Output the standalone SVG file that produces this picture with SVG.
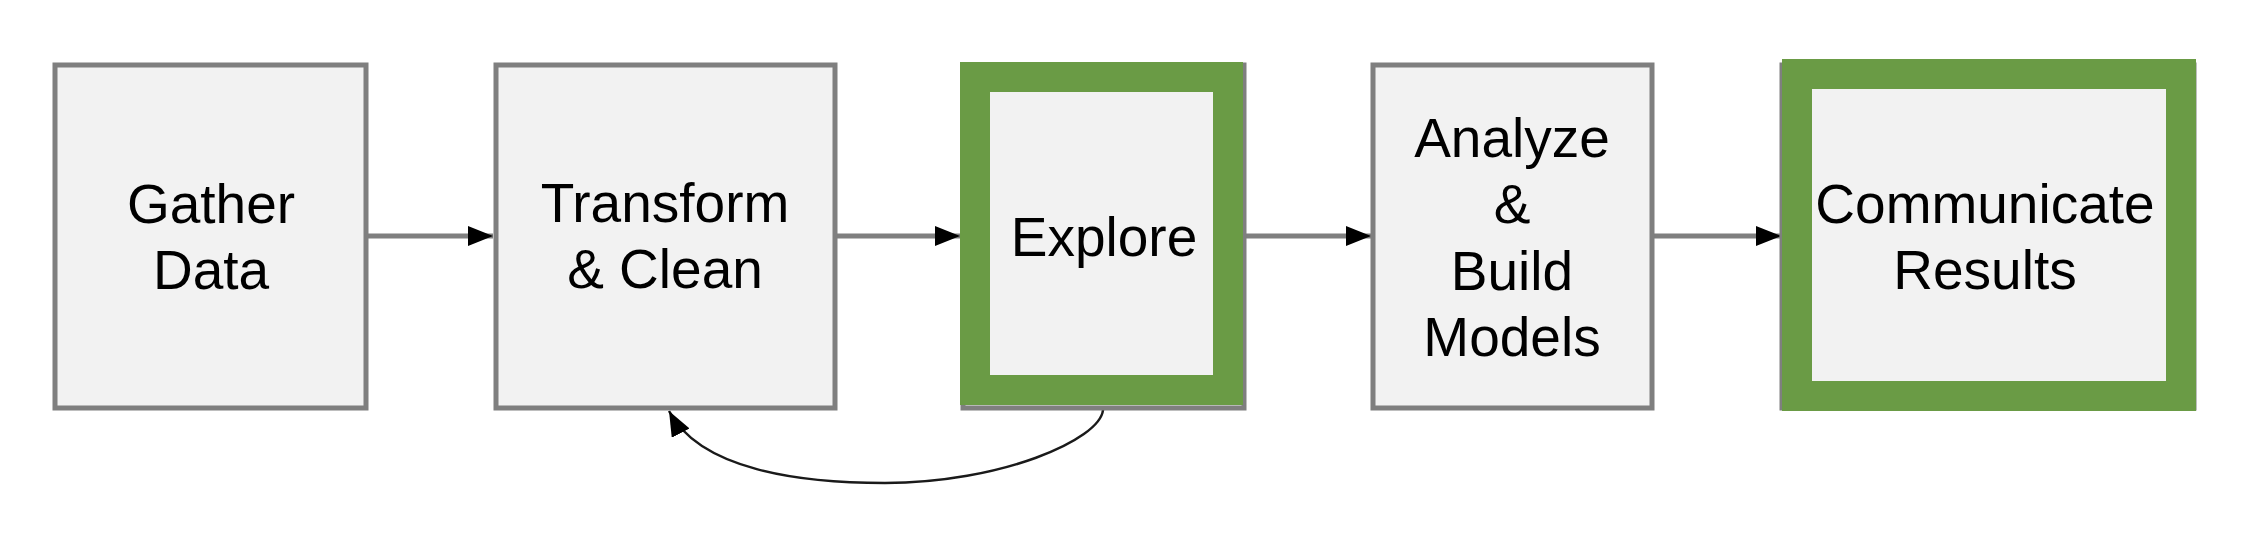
<svg xmlns="http://www.w3.org/2000/svg" width="2256" height="534" viewBox="0 0 2256 534">
  <defs>
    <style>
      .box { fill: #f2f2f2; stroke: #7f7f7f; stroke-width: 5; }
      .hl { fill: none; stroke: #6a9b45; stroke-width: 30; }
      .lbl { font-family: "Liberation Sans", Arial, sans-serif; font-size: 55px; fill: #000; text-anchor: middle; }
      .edge { fill: none; stroke: #7f7f7f; stroke-width: 5; }
      .loop { fill: none; stroke: #1a1a1a; stroke-width: 2.5; }
    </style>
    <marker id="ah" markerUnits="userSpaceOnUse" markerWidth="26" markerHeight="22" refX="25" refY="11" orient="auto" viewBox="0 0 26 22">
      <path d="M0,1 L25,11 L0,21 z" fill="#000"/>
    </marker>
    <marker id="ah2" markerUnits="userSpaceOnUse" markerWidth="26" markerHeight="20" refX="25" refY="10" orient="auto" viewBox="0 0 26 20">
      <path d="M0,0 L25,10 L0,20 z" fill="#000"/>
    </marker>
  </defs>
  <rect width="2256" height="534" fill="#fff"/>

  <g id="connectors">
    <line class="edge" x1="368" y1="236" x2="493" y2="236" marker-end="url(#ah)"/>
    <line class="edge" x1="837" y1="236" x2="960" y2="236" marker-end="url(#ah)"/>
    <line class="edge" x1="1246" y1="236" x2="1371" y2="236" marker-end="url(#ah)"/>
    <line class="edge" x1="1654" y1="236" x2="1781" y2="236" marker-end="url(#ah)"/>
    <path class="loop" d="M1103,410 C1100,440 1000,483 885,483 C800,483 700,470 669,411" marker-end="url(#ah2)"/>
  </g>

  <g id="gather">
    <rect class="box" x="55" y="65" width="311" height="343"/>
    <text class="lbl" x="211" y="223">Gather</text>
    <text class="lbl" x="211" y="289">Data</text>
  </g>

  <g id="transform">
    <rect class="box" x="496" y="65" width="339" height="343"/>
    <text class="lbl" x="665" y="222">Transform</text>
    <text class="lbl" x="665" y="288">&amp; Clean</text>
  </g>

  <g id="explore">
    <rect class="box" x="963" y="65" width="281" height="343"/>
    <rect x="975" y="77" width="253" height="313" fill="#f2f2f2"/>
    <rect class="hl" x="975" y="77" width="253" height="313"/>
    <text class="lbl" x="1104" y="256">Explore</text>
  </g>

  <g id="analyze">
    <rect class="box" x="1373" y="65" width="279" height="343"/>
    <text class="lbl" x="1512" y="157">Analyze</text>
    <text class="lbl" x="1512" y="223">&amp;</text>
    <text class="lbl" x="1512" y="290">Build</text>
    <text class="lbl" x="1512" y="356">Models</text>
  </g>

  <g id="communicate">
    <rect class="box" x="1782" y="65" width="412" height="343"/>
    <rect x="1797" y="74" width="384" height="322" fill="#f2f2f2"/>
    <rect class="hl" x="1797" y="74" width="384" height="322"/>
    <text class="lbl" x="1985" y="223">Communicate</text>
    <text class="lbl" x="1985" y="289">Results</text>
  </g>
</svg>
